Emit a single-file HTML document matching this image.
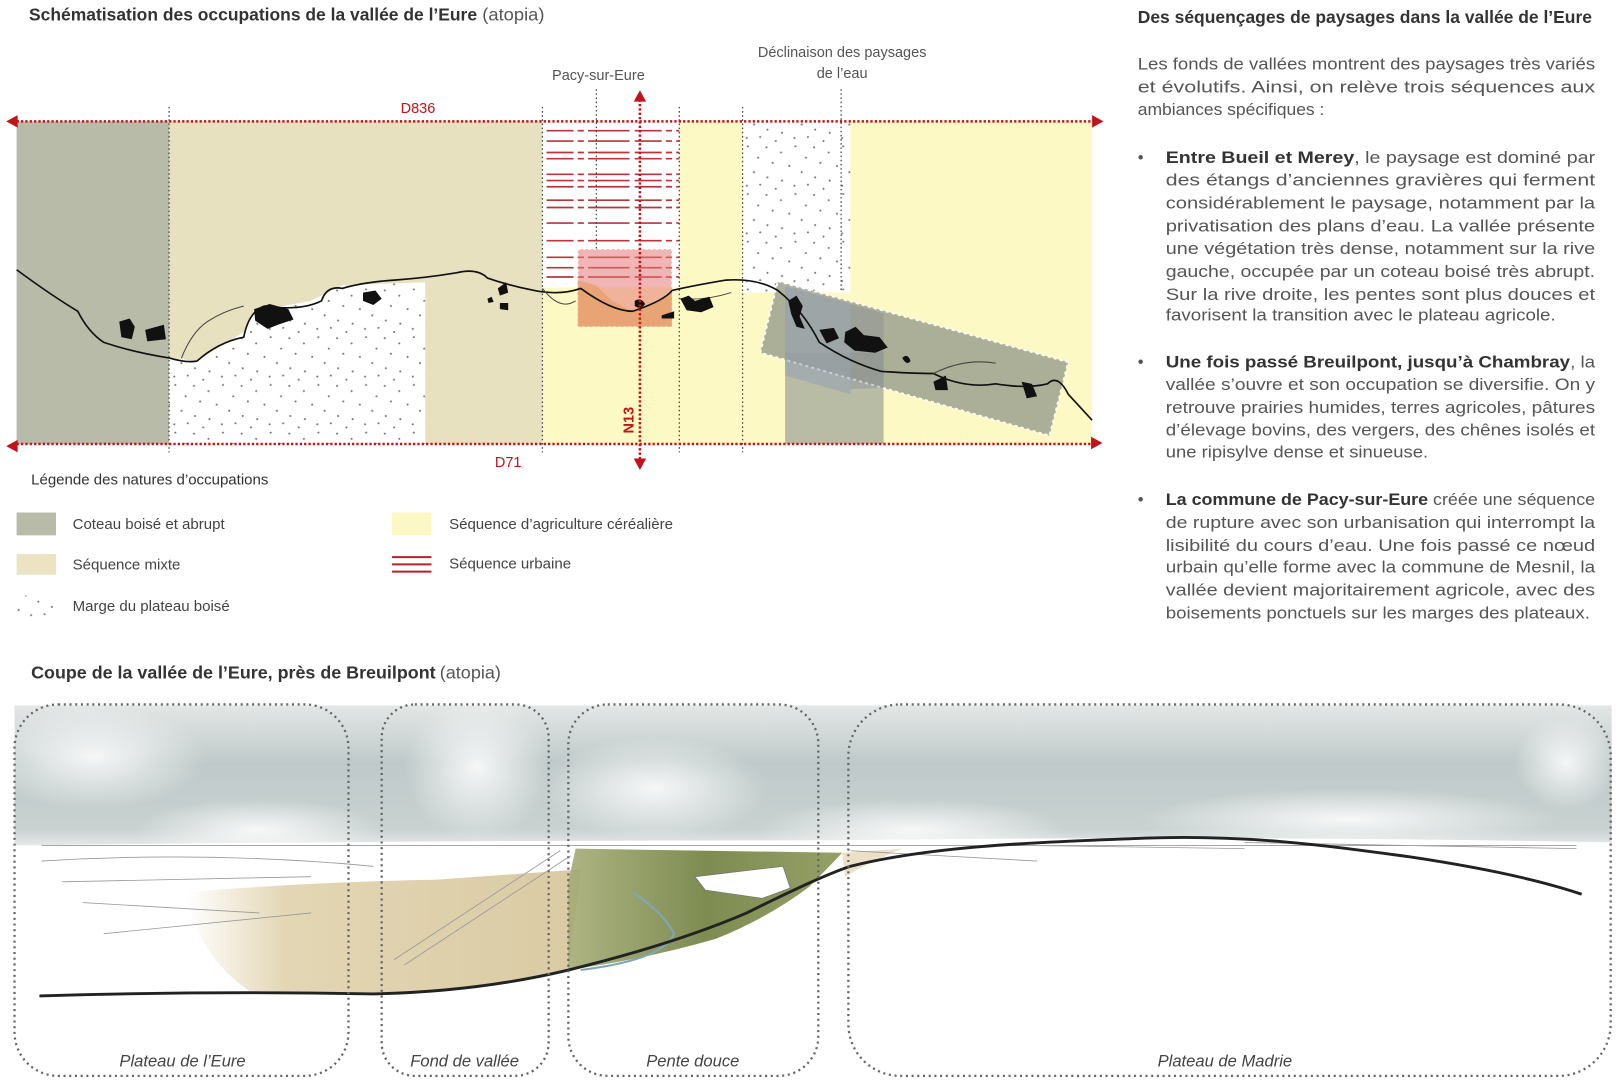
<!DOCTYPE html>
<html><head><meta charset="utf-8"><style>
html,body{margin:0;padding:0;background:#fff;}
svg{display:block;}
text{font-family:"Liberation Sans",sans-serif;}
</style></head><body>
<svg width="1620" height="1080" viewBox="0 0 1562 1041" preserveAspectRatio="none" xmlns="http://www.w3.org/2000/svg">
<defs>
<pattern id="dots" width="46" height="46" patternUnits="userSpaceOnUse">
<g fill="#777">
<circle cx="3" cy="4" r="1"/><circle cx="17" cy="9" r="1"/><circle cx="31" cy="3" r="1"/><circle cx="41" cy="14" r="1"/>
<circle cx="9" cy="19" r="1"/><circle cx="25" cy="22" r="1"/><circle cx="37" cy="28" r="1"/><circle cx="4" cy="33" r="1"/>
<circle cx="18" cy="36" r="1"/><circle cx="30" cy="41" r="1"/><circle cx="43" cy="40" r="1"/><circle cx="12" cy="44" r="1"/>
</g></pattern>
<linearGradient id="sky" x1="0" y1="0" x2="0" y2="1">
<stop offset="0" stop-color="#e3e7e6"/><stop offset="0.4" stop-color="#bfc9c9"/><stop offset="0.85" stop-color="#c9d2d1"/><stop offset="1" stop-color="#eef0ef"/>
</linearGradient>
<radialGradient id="cl" cx="0.5" cy="0.5" r="0.5"><stop offset="0" stop-color="#fff" stop-opacity="0.85"/><stop offset="1" stop-color="#fff" stop-opacity="0"/></radialGradient>
<linearGradient id="green" x1="0" y1="0" x2="1" y2="0"><stop offset="0" stop-color="#a5ac76"/><stop offset="0.5" stop-color="#6f7f3d"/><stop offset="1" stop-color="#8a9656"/></linearGradient>
<linearGradient id="tan" x1="0" y1="0" x2="1" y2="0"><stop offset="0" stop-color="#d8c594" stop-opacity="0"/><stop offset="0.25" stop-color="#d8c594" stop-opacity="0.7"/><stop offset="1" stop-color="#c9b47c" stop-opacity="0.7"/></linearGradient>
</defs>

<text x="28" y="20" font-size="16.5" fill="#333" font-weight="bold" textLength="432" lengthAdjust="spacingAndGlyphs">Schématisation des occupations de la vallée de l’Eure</text>
<text x="465" y="20" font-size="16.5" fill="#555" textLength="60" lengthAdjust="spacingAndGlyphs">(atopia)</text>

<rect x="16" y="117" width="147" height="311" fill="#b7bba8"/>
<rect x="163" y="117" width="360" height="311" fill="#e8e1c0"/>
<path d="M163 345 L190 348 L235 320 L245 300 L300 290 L330 275 L410 272 L410 428 L163 428 Z" fill="#fff"/>
<path d="M163 345 L190 348 L235 320 L245 300 L300 290 L330 275 L410 272 L410 428 L163 428 Z" fill="url(#dots)"/>
<rect x="523" y="117" width="132" height="311" fill="#fdf9c4"/>
<rect x="523" y="117" width="132" height="160" fill="#fff"/>
<g stroke="#b8353a" stroke-width="1.6" stroke-dasharray="26 4 6 4 40 5">
<line x1="527" y1="126" x2="655" y2="126"/><line x1="527" y1="136" x2="655" y2="136"/>
<line x1="527" y1="147" x2="655" y2="147"/><line x1="527" y1="153" x2="655" y2="153"/>
<line x1="527" y1="168" x2="655" y2="168"/><line x1="527" y1="174" x2="655" y2="174"/><line x1="527" y1="180" x2="655" y2="180"/>
<line x1="527" y1="193" x2="655" y2="193"/><line x1="527" y1="200" x2="655" y2="200"/>
<line x1="527" y1="215" x2="655" y2="215"/><line x1="527" y1="232" x2="655" y2="232"/>
<line x1="527" y1="248" x2="655" y2="248"/><line x1="527" y1="258" x2="655" y2="258"/><line x1="527" y1="267" x2="655" y2="267"/>
</g>
<rect x="655" y="117" width="61" height="311" fill="#fdf9c4"/>
<rect x="716" y="117" width="104" height="311" fill="#fdf9c4"/>
<rect x="716" y="117" width="104" height="165" fill="#fff"/>
<rect x="716" y="117" width="104" height="165" fill="url(#dots)"/>
<rect x="820" y="117" width="233" height="311" fill="#fdf9c4"/>
<rect x="757" y="340" width="95" height="88" fill="#b9bca5"/>
<rect x="557" y="240" width="91" height="75" fill="#e47a78" opacity="0.55" stroke="#fff" stroke-width="1.5" stroke-dasharray="3 2"/>
<path d="M557 270 L575 275 L590 290 L610 300 L635 290 L648 280 L648 315 L557 315 Z" fill="#e59a5e" opacity="0.6"/>
<polygon points="750,271 1030,349 1012,420 733,340" fill="#9ea390" opacity="0.85" stroke="#fff" stroke-width="2" stroke-dasharray="3 3"/>
<polygon points="757,276 820,293 820,380 757,362" fill="#8b9ab8" opacity="0.45"/>
<polygon points="820,293 852,302 852,374 820,375" fill="#7d8598" opacity="0.35"/>

<g fill="none" stroke="#111" stroke-width="1.6">
<path d="M16 260 Q50 285 75 300 Q85 320 100 330 Q130 340 163 345 Q180 350 190 348 Q210 330 235 325 Q240 300 255 295 Q290 300 310 290 Q315 275 330 278 Q350 272 380 270 Q410 268 440 263 Q460 258 470 268 Q490 275 515 280 Q540 285 560 278 Q590 300 610 300 Q640 290 648 280 Q670 275 700 270 Q730 268 750 280 Q775 300 790 330 Q820 350 850 358 Q880 360 900 360 Q930 375 960 370 Q990 375 1010 370 Q1020 360 1030 380 L1053 405"/>
</g>
<g fill="none" stroke="#444" stroke-width="1">
<path d="M175 345 Q185 320 200 310 Q215 300 235 295 M523 278 Q540 300 555 290 M655 288 Q680 290 705 282 M900 360 Q930 345 960 350"/>
</g>
<g fill="#111">
<path d="M115 310 l10 -3 5 8 -3 12 -10 -2 z"/><path d="M140 318 l18 -5 2 14 -18 2 z"/>
<path d="M245 298 l15 -5 18 5 5 10 -15 5 -10 4 -12 -8 z"/><path d="M350 282 l12 -2 6 8 -8 6 -10 -4 z"/>
<path d="M480 278 l8 -6 2 10 -8 3 z"/><path d="M470 288 l4 -2 2 5 -5 1 z"/><path d="M482 292 l8 0 0 7 -8 -1z"/>
<path d="M612 290 q6 -4 10 3 q-4 6 -10 2z"/><path d="M638 304 l12 -4 0 7 -12 0z"/>
<path d="M656 288 l8 -3 6 5 14 -4 4 10 -12 5 -14 -2z"/>
<path d="M760 290 l8 -5 6 10 -3 10 5 12 -8 -2 -5 -12z"/><path d="M790 318 l14 -2 5 10 -12 5z"/>
<path d="M815 320 l10 -5 8 8 15 2 8 10 -12 5 -20 -2 -10 -8z"/><path d="M870 345 q5 -5 8 3 q-4 5 -8 -3z"/>
<path d="M900 368 l12 -6 2 14 -12 0z"/><path d="M985 368 l10 2 5 12 -10 2z"/>
</g>

<g stroke="#444" stroke-width="1.2" stroke-dasharray="1.5 2.5">
<line x1="163" y1="103" x2="163" y2="436"/><line x1="523" y1="103" x2="523" y2="436"/>
<line x1="575" y1="86" x2="575" y2="240"/><line x1="655" y1="103" x2="655" y2="436"/>
<line x1="716" y1="103" x2="716" y2="436"/><line x1="811" y1="86" x2="811" y2="280"/>
</g>
<g stroke="#c0141a" stroke-width="2.4" stroke-dasharray="2.2 2">
<line x1="16" y1="117" x2="1053" y2="117"/><line x1="16" y1="428" x2="1053" y2="428"/>
<line x1="617" y1="96" x2="617" y2="443"/>
</g>
<g fill="#c0141a">
<polygon points="6,117 17,111 17,123"/><polygon points="1064,117 1053,111 1053,123"/>
<polygon points="6,430 17,424 17,436"/><polygon points="1063,427 1052,421 1052,433"/>
<polygon points="617,87 611,98 623,98"/><polygon points="617,453 611,442 623,442"/>
</g>
<text x="403" y="109" font-size="14" fill="#c0141a" text-anchor="middle">D836</text>
<text x="490" y="450" font-size="14" fill="#c0141a" text-anchor="middle">D71</text>
<text transform="translate(611,405) rotate(-90)" font-size="14" fill="#c0141a" text-anchor="middle" font-weight="bold">N13</text>
<text x="577" y="77" font-size="14" fill="#555" text-anchor="middle">Pacy-sur-Eure</text>
<text x="812" y="55" font-size="14" fill="#555" text-anchor="middle">Déclinaison des paysages</text>
<text x="812" y="75" font-size="14" fill="#555" text-anchor="middle">de l’eau</text>

<text x="30" y="467" font-size="14.5" fill="#333">Légende des natures d’occupations</text>
<rect x="16" y="494" width="38" height="22" fill="#b7bba8"/>
<text x="70" y="510" font-size="14.5" fill="#444">Coteau boisé et abrupt</text>
<rect x="16" y="534" width="38" height="20" fill="#ebe3c1"/>
<text x="70" y="549" font-size="14.5" fill="#444">Séquence mixte</text>
<rect x="16" y="574" width="38" height="22" fill="url(#dots)"/>
<text x="70" y="589" font-size="14.5" fill="#444">Marge du plateau boisé</text>
<rect x="378" y="494" width="38" height="22" fill="#fbf8c5"/>
<text x="433" y="510" font-size="14.5" fill="#444">Séquence d’agriculture céréalière</text>
<g stroke="#b8202a" stroke-width="2"><line x1="378" y1="537" x2="416" y2="537"/><line x1="378" y1="544" x2="416" y2="544"/><line x1="378" y1="551" x2="416" y2="551"/></g>
<text x="433" y="548" font-size="14.5" fill="#444">Séquence urbaine</text>

<text x="1097" y="22" font-size="16.5" fill="#333" font-weight="bold" textLength="438" lengthAdjust="spacingAndGlyphs">Des séquençages de paysages dans la vallée de l’Eure</text>
<g font-size="16" fill="#555">
<text x="1097" y="67" textLength="441" lengthAdjust="spacingAndGlyphs">Les fonds de vallées montrent des paysages très variés</text>
<text x="1097" y="89" textLength="441" lengthAdjust="spacingAndGlyphs">et   évolutifs.   Ainsi,   on   relève   trois   séquences   aux</text>
<text x="1097" y="111" textLength="180" lengthAdjust="spacingAndGlyphs">ambiances spécifiques :</text>
<text x="1097" y="157">•</text>
<text x="1124" y="157" textLength="414" lengthAdjust="spacingAndGlyphs"><tspan font-weight="bold" fill="#333">Entre Bueil et Merey</tspan>, le paysage est dominé par</text>
<text x="1124" y="179" textLength="414" lengthAdjust="spacingAndGlyphs">des   étangs   d’anciennes   gravières   qui   ferment</text>
<text x="1124" y="201" textLength="414" lengthAdjust="spacingAndGlyphs">considérablement  le  paysage,  notamment  par  la</text>
<text x="1124" y="223" textLength="414" lengthAdjust="spacingAndGlyphs">privatisation  des  plans  d’eau.  La  vallée  présente</text>
<text x="1124" y="245" textLength="414" lengthAdjust="spacingAndGlyphs">une végétation très dense, notamment sur la rive</text>
<text x="1124" y="267" textLength="414" lengthAdjust="spacingAndGlyphs">gauche, occupée par un coteau boisé très abrupt.</text>
<text x="1124" y="289" textLength="414" lengthAdjust="spacingAndGlyphs">Sur la rive droite, les pentes sont plus douces et</text>
<text x="1124" y="309" textLength="376" lengthAdjust="spacingAndGlyphs">favorisent la transition avec le plateau agricole.</text>
<text x="1097" y="354">•</text>
<text x="1124" y="354" textLength="414" lengthAdjust="spacingAndGlyphs"><tspan font-weight="bold" fill="#333">Une fois passé Breuilpont, jusqu’à Chambray</tspan>, la</text>
<text x="1124" y="376" textLength="414" lengthAdjust="spacingAndGlyphs">vallée s’ouvre et son occupation se diversifie. On y</text>
<text x="1124" y="398" textLength="414" lengthAdjust="spacingAndGlyphs">retrouve prairies humides, terres agricoles, pâtures</text>
<text x="1124" y="420" textLength="414" lengthAdjust="spacingAndGlyphs">d’élevage bovins, des vergers, des chênes isolés et</text>
<text x="1124" y="441" textLength="253" lengthAdjust="spacingAndGlyphs">une ripisylve dense et sinueuse.</text>
<text x="1097" y="487">•</text>
<text x="1124" y="487" textLength="414" lengthAdjust="spacingAndGlyphs"><tspan font-weight="bold" fill="#333">La commune de Pacy-sur-Eure</tspan> créée une séquence</text>
<text x="1124" y="509" textLength="414" lengthAdjust="spacingAndGlyphs">de rupture avec son urbanisation qui interrompt la</text>
<text x="1124" y="531" textLength="414" lengthAdjust="spacingAndGlyphs">lisibilité  du  cours  d’eau.  Une  fois  passé  ce  nœud</text>
<text x="1124" y="552" textLength="414" lengthAdjust="spacingAndGlyphs">urbain qu’elle forme avec la commune de Mesnil, la</text>
<text x="1124" y="574" textLength="414" lengthAdjust="spacingAndGlyphs">vallée  devient  majoritairement  agricole,  avec  des</text>
<text x="1124" y="596" textLength="409" lengthAdjust="spacingAndGlyphs">boisements ponctuels sur les marges des plateaux.</text>
</g>

<text x="30" y="654" font-size="16.5" fill="#333" font-weight="bold" textLength="390" lengthAdjust="spacingAndGlyphs">Coupe de la vallée de l’Eure, près de Breuilpont</text>
<text x="424" y="654" font-size="16.5" fill="#555" textLength="59" lengthAdjust="spacingAndGlyphs">(atopia)</text>

<rect x="14" y="680" width="1540" height="140" fill="url(#sky)"/>
<g fill="url(#cl)">
<ellipse cx="90" cy="730" rx="110" ry="50"/><ellipse cx="460" cy="740" rx="70" ry="70"/><ellipse cx="630" cy="760" rx="110" ry="50"/>
<ellipse cx="880" cy="800" rx="150" ry="30"/><ellipse cx="1300" cy="790" rx="200" ry="30"/><ellipse cx="250" cy="800" rx="120" ry="30"/><ellipse cx="1510" cy="735" rx="50" ry="45"/>
</g>
<path d="M14 815 Q400 810 800 810 Q1200 805 1554 812 L1554 1040 L14 1040 Z" fill="#fff"/>
<path d="M180 860 Q300 850 420 848 L560 838 L548 935 Q450 955 360 958 L240 955 Q190 920 180 860 Z" fill="url(#tan)"/>
<path d="M555 818 L812 822 Q800 835 780 855 Q740 885 690 905 Q620 925 548 935 L548 850 Z" fill="url(#green)" opacity="0.9"/>
<path d="M812 822 L870 818 Q840 830 815 845 Z" fill="#d6c391" opacity="0.5"/>
<path d="M670 845 L755 835 L762 856 L735 866 L680 858 Z" fill="#fff" stroke="#777" stroke-width="0.8"/>
<path d="M610 860 Q640 880 650 900 Q640 925 560 935" fill="none" stroke="#7ea8b8" stroke-width="2"/>
<g fill="none" stroke="#999" stroke-width="0.8">
<path d="M40 815 L1520 815 M40 830 Q200 820 360 835 M60 850 L300 845 M80 870 L250 880 M100 900 L300 880 M380 925 L540 820 M390 930 L550 825 M820 820 L1000 830 M1000 815 L1200 818 M1200 812 L1520 818"/>
</g>
<path d="M38 960 Q200 955 360 958 Q460 956 548 935 Q650 910 720 880 Q790 845 820 835 C900 815 1000 812 1100 808 C1200 804 1280 815 1360 826 C1440 838 1490 850 1525 862" fill="none" stroke="#222" stroke-width="2.8"/>

<g fill="none" stroke="#666" stroke-width="2.2" stroke-dasharray="2 3.5">
<rect x="14" y="679" width="322" height="358" rx="42"/>
<rect x="368" y="679" width="161" height="358" rx="32"/>
<rect x="548" y="679" width="241" height="358" rx="38"/>
<rect x="818" y="679" width="735" height="358" rx="50"/>
</g>
<g font-size="16" font-style="italic" fill="#444" text-anchor="middle">
<text x="176" y="1028">Plateau de l’Eure</text>
<text x="448" y="1028">Fond de vallée</text>
<text x="668" y="1028">Pente douce</text>
<text x="1181" y="1028">Plateau de Madrie</text>
</g>
</svg>
</body></html>
